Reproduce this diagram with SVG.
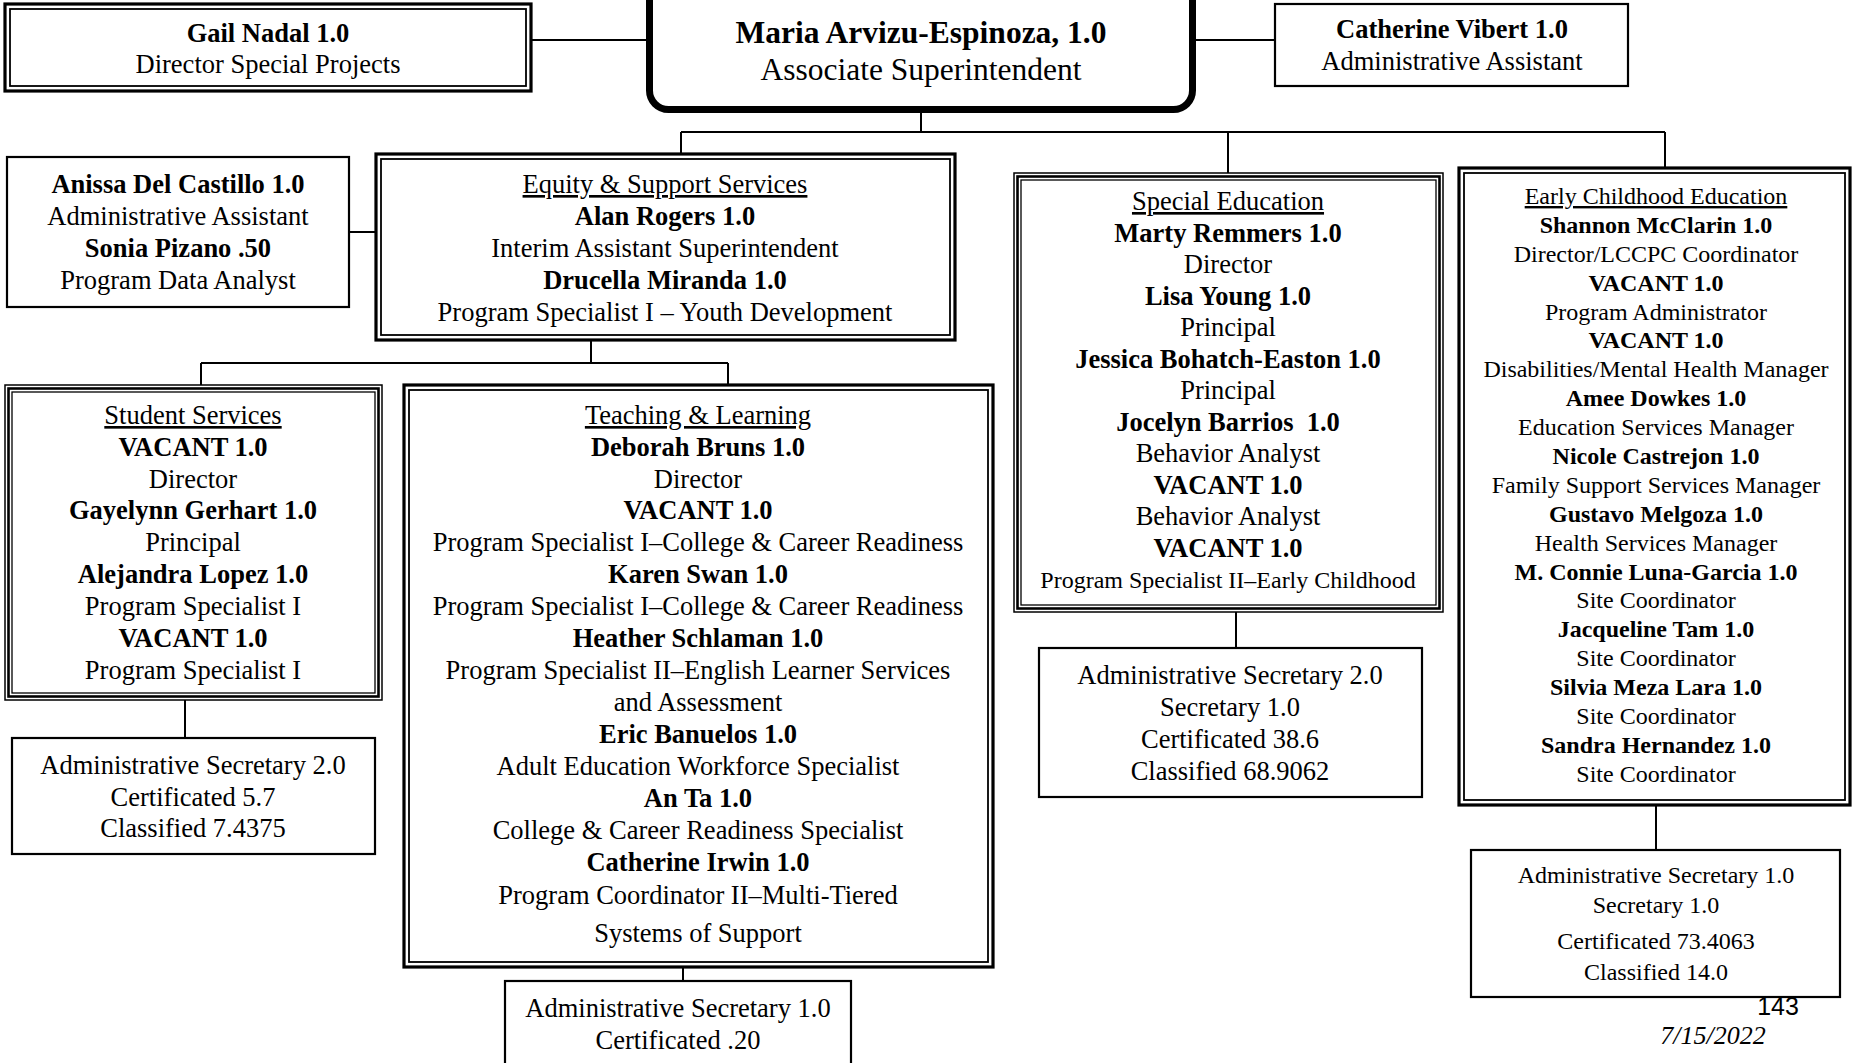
<svg xmlns="http://www.w3.org/2000/svg" width="1853" height="1063" viewBox="0 0 1853 1063">
<style>
text{font-family:"Liberation Serif","Times New Roman",serif;font-size:26.5px;text-anchor:middle;fill:#000}
.b{font-weight:bold}
.s{font-size:24px}
.u{text-decoration:underline}
.box{fill:#fff;stroke:#000;stroke-width:2.2}
.out{fill:#fff;stroke:#000;stroke-width:3.2}
.in{fill:none;stroke:#000;stroke-width:1.8}
.tout{fill:#fff;stroke:#000;stroke-width:1.5}
.tmid{fill:none;stroke:#000;stroke-width:2.6}
.tin{fill:none;stroke:#000;stroke-width:1.3}
.con{fill:none;stroke:#000;stroke-width:2}
</style>
<rect width="1853" height="1063" fill="#fff"/>
<g id="connectors">
<path class="con" d="M531 40H649M1192 40H1275M921 112V132M681 132H1665M681 132V154M1228 132V173M1665 132V168M349 232H376M591 340V363M201 363H728M201 363V385M728 363V385M185 700V738M683 967V981M1236 612V648M1656 805V850"/>
</g>
<g id="gail">
<rect class="out" x="5" y="4" width="526" height="87"/><rect class="in" x="10" y="9" width="516" height="77"/>
<text class="b" x="268" y="42">Gail Nadal 1.0</text>
<text x="268" y="73">Director Special Projects</text>
</g>
<g id="maria">
<rect x="649.5" y="-20" width="543" height="129.5" rx="19" fill="#fff" stroke="#000" stroke-width="7"/>
<text class="b" x="921" y="43" style="font-size:31.5px">Maria Arvizu-Espinoza, 1.0</text>
<text x="921" y="80" style="font-size:31.5px">Associate Superintendent</text>
</g>
<g id="catherine">
<rect class="box" x="1275" y="4" width="353" height="82"/>
<text class="b" x="1452" y="38">Catherine Vibert 1.0</text>
<text x="1452" y="70">Administrative Assistant</text>
</g>
<g id="anissa">
<rect class="box" x="7" y="157" width="342" height="150"/>
<text class="b" x="178" y="193">Anissa Del Castillo 1.0</text>
<text x="178" y="225">Administrative Assistant</text>
<text class="b" x="178" y="257">Sonia Pizano .50</text>
<text x="178" y="289">Program Data Analyst</text>
</g>
<g id="equity">
<rect class="out" x="376" y="154" width="579" height="186"/><rect class="in" x="381" y="159" width="569" height="176"/>
<text class="u" x="665" y="193">Equity &amp; Support Services</text>
<text class="b" x="665" y="225">Alan Rogers 1.0</text>
<text x="665" y="257">Interim Assistant Superintendent</text>
<text class="b" x="665" y="289">Drucella Miranda 1.0</text>
<text x="665" y="321">Program Specialist I – Youth Development</text>
</g>
<g id="student">
<rect class="tout" x="5" y="385" width="377" height="315"/><rect class="tmid" x="8.5" y="388.5" width="370" height="308"/><rect class="tin" x="12" y="392" width="363" height="301"/>
<text class="u" x="193" y="424">Student Services</text>
<text class="b" x="193" y="456">VACANT 1.0</text>
<text x="193" y="488">Director</text>
<text class="b" x="193" y="519">Gayelynn Gerhart 1.0</text>
<text x="193" y="551">Principal</text>
<text class="b" x="193" y="583">Alejandra Lopez 1.0</text>
<text x="193" y="615">Program Specialist I</text>
<text class="b" x="193" y="647">VACANT 1.0</text>
<text x="193" y="679">Program Specialist I</text>
</g>
<g id="teaching">
<rect class="out" x="404" y="385" width="589" height="582"/><rect class="in" x="409" y="390" width="579" height="572"/>
<text class="u" x="698" y="424">Teaching &amp; Learning</text>
<text class="b" x="698" y="456">Deborah Bruns 1.0</text>
<text x="698" y="488">Director</text>
<text class="b" x="698" y="519">VACANT 1.0</text>
<text x="698" y="551">Program Specialist I–College &amp; Career Readiness</text>
<text class="b" x="698" y="583">Karen Swan 1.0</text>
<text x="698" y="615">Program Specialist I–College &amp; Career Readiness</text>
<text class="b" x="698" y="647">Heather Schlaman 1.0</text>
<text x="698" y="679">Program Specialist II–English Learner Services</text>
<text x="698" y="711">and Assessment</text>
<text class="b" x="698" y="743">Eric Banuelos 1.0</text>
<text x="698" y="775">Adult Education Workforce Specialist</text>
<text class="b" x="698" y="807">An Ta 1.0</text>
<text x="698" y="839">College &amp; Career Readiness Specialist</text>
<text class="b" x="698" y="871">Catherine Irwin 1.0</text>
<text x="698" y="904">Program Coordinator II–Multi-Tiered</text>
<text x="698" y="942">Systems of Support</text>
</g>
<g id="special-ed">
<rect class="tout" x="1014" y="173" width="429" height="439"/><rect class="tmid" x="1017.5" y="176.5" width="422" height="432"/><rect class="tin" x="1021" y="180" width="415" height="425"/>
<text class="u" x="1228" y="210">Special Education</text>
<text class="b" x="1228" y="242">Marty Remmers 1.0</text>
<text x="1228" y="273">Director</text>
<text class="b" x="1228" y="305">Lisa Young 1.0</text>
<text x="1228" y="336">Principal</text>
<text class="b" x="1228" y="368">Jessica Bohatch-Easton 1.0</text>
<text x="1228" y="399">Principal</text>
<text class="b" x="1228" y="431">Jocelyn Barrios&#160; 1.0</text>
<text x="1228" y="462">Behavior Analyst</text>
<text class="b" x="1228" y="494">VACANT 1.0</text>
<text x="1228" y="525">Behavior Analyst</text>
<text class="b" x="1228" y="557">VACANT 1.0</text>
<text class="s" x="1228" y="588">Program Specialist II–Early Childhood</text>
</g>
<g id="early-childhood">
<rect class="out" x="1459" y="168" width="391" height="637"/><rect class="in" x="1464" y="173" width="381" height="627"/>
<text class="s u" x="1656" y="204">Early Childhood Education</text>
<text class="s b" x="1656" y="233">Shannon McClarin 1.0</text>
<text class="s" x="1656" y="262">Director/LCCPC Coordinator</text>
<text class="s b" x="1656" y="291">VACANT 1.0</text>
<text class="s" x="1656" y="320">Program Administrator</text>
<text class="s b" x="1656" y="348">VACANT 1.0</text>
<text class="s" x="1656" y="377">Disabilities/Mental Health Manager</text>
<text class="s b" x="1656" y="406">Amee Dowkes 1.0</text>
<text class="s" x="1656" y="435">Education Services Manager</text>
<text class="s b" x="1656" y="464">Nicole Castrejon 1.0</text>
<text class="s" x="1656" y="493">Family Support Services Manager</text>
<text class="s b" x="1656" y="522">Gustavo Melgoza 1.0</text>
<text class="s" x="1656" y="551">Health Services Manager</text>
<text class="s b" x="1656" y="580">M. Connie Luna-Garcia 1.0</text>
<text class="s" x="1656" y="608">Site Coordinator</text>
<text class="s b" x="1656" y="637">Jacqueline Tam 1.0</text>
<text class="s" x="1656" y="666">Site Coordinator</text>
<text class="s b" x="1656" y="695">Silvia Meza Lara 1.0</text>
<text class="s" x="1656" y="724">Site Coordinator</text>
<text class="s b" x="1656" y="753">Sandra Hernandez 1.0</text>
<text class="s" x="1656" y="782">Site Coordinator</text>
</g>
<g id="student-secretary">
<rect class="box" x="12" y="738" width="363" height="116"/>
<text x="193" y="774">Administrative Secretary 2.0</text>
<text x="193" y="806">Certificated 5.7</text>
<text x="193" y="837">Classified 7.4375</text>
</g>
<g id="teaching-secretary">
<rect class="box" x="505" y="981" width="346" height="100"/>
<text x="678" y="1017">Administrative Secretary 1.0</text>
<text x="678" y="1049">Certificated .20</text>
</g>
<g id="special-ed-secretary">
<rect class="box" x="1039" y="648" width="383" height="149"/>
<text x="1230" y="684">Administrative Secretary 2.0</text>
<text x="1230" y="716">Secretary 1.0</text>
<text x="1230" y="748">Certificated 38.6</text>
<text x="1230" y="780">Classified 68.9062</text>
</g>
<g id="early-childhood-secretary">
<rect class="box" x="1471" y="850" width="369" height="147"/>
<text class="s" x="1656" y="883">Administrative Secretary 1.0</text>
<text class="s" x="1656" y="913">Secretary 1.0</text>
<text class="s" x="1656" y="949">Certificated 73.4063</text>
<text class="s" x="1656" y="980">Classified 14.0</text>
</g>
<g id="footer">
<text x="1778" y="1015" style="font-family:'Liberation Sans',Arial,sans-serif;font-size:25px">143</text>
<text x="1713" y="1044" style="font-style:italic;font-size:26px">7/15/2022</text>
</g>
</svg>
